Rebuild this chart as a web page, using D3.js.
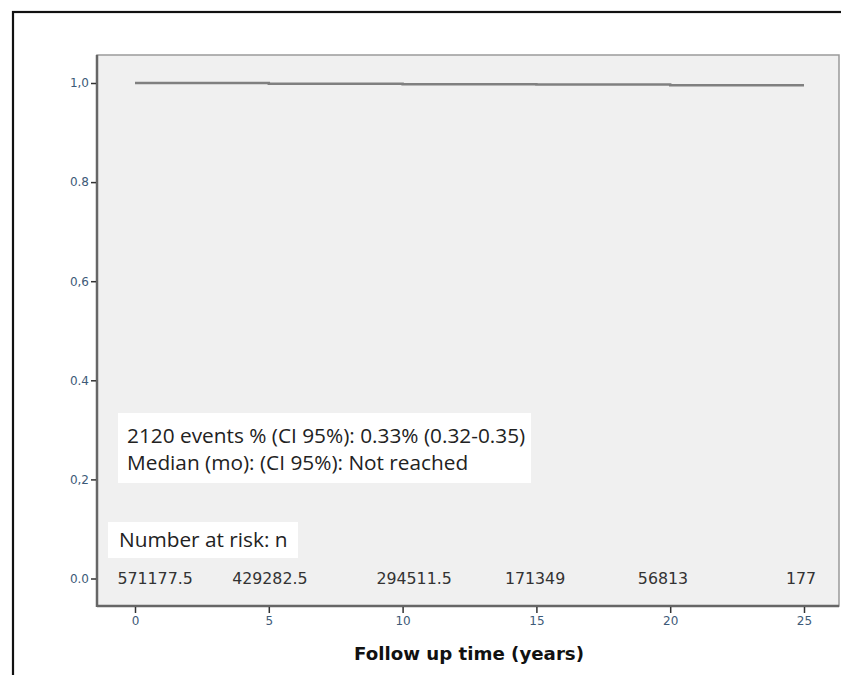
<!DOCTYPE html>
<html><head><meta charset="utf-8">
<script src="https://cdn.jsdelivr.net/npm/d3@7"></script>
<style>
html,body{margin:0;padding:0;background:#fff;}
svg{display:block;}
</style></head>
<body>
<script>
// ---- data ----
const stepTimes = [0, 5, 10, 15, 20, 25];
const survival = [1.0, 0.9985, 0.9975, 0.997, 0.9955, 0.9955];
const xTicks = [0, 5, 10, 15, 20, 25];
const yTicks = [0, 0.2, 0.4, 0.6, 0.8, 1.0];
const yTickLabels = ["0.0", "0,2", "0.4", "0,6", "0.8", "1,0"];
const riskTimes = [0.75, 5.04, 10.43, 14.95, 19.73, 24.89];
const riskLabels = ["571177.5", "429282.5", "294511.5", "171349", "56813", "177"];
const annotLines = ["2120 events % (CI 95%): 0.33% (0.32-0.35)", "Median (mo): (CI 95%): Not reached"];
const riskTitle = "Number at risk: n";
const xTitle = "Follow up time (years)";

const W = 841, H = 675;
const svg = d3.select("body").append("svg").attr("width", W).attr("height", H);

// outer frame
svg.append("rect").attr("x", 13).attr("y", 12).attr("width", 900).attr("height", 800)
  .attr("fill", "#fff").attr("stroke", "#111").attr("stroke-width", 2.2);

const frame = {l: 97, t: 55, r: 839, b: 606};
const x = d3.scaleLinear().domain([0, 25]).range([135, 804]);
const y = d3.scaleLinear().domain([0, 1]).range([578.5, 83]);

// plot background
svg.append("rect").attr("x", frame.l).attr("y", frame.t)
  .attr("width", frame.r - frame.l).attr("height", frame.b - frame.t)
  .attr("fill", "#f0f0f0").attr("stroke", "#9a9a9a").attr("stroke-width", 1.5);

// axes lines
svg.append("line").attr("x1", frame.l).attr("x2", frame.l).attr("y1", frame.t).attr("y2", frame.b + 1)
  .attr("stroke", "#666").attr("stroke-width", 2.5);
svg.append("line").attr("x1", frame.l).attr("x2", frame.r).attr("y1", frame.b).attr("y2", frame.b)
  .attr("stroke", "#666").attr("stroke-width", 2.5);

// y axis
const yAxis = d3.axisLeft(y).tickValues(yTicks).tickSize(5).tickPadding(2)
  .tickFormat((d, i) => yTickLabels[i]);
const gy = svg.append("g").attr("transform", `translate(${frame.l - 1},0)`).call(yAxis);
gy.select(".domain").remove();
gy.selectAll(".tick line").attr("stroke", "#333").attr("stroke-width", 1.5);
gy.selectAll(".tick text").attr("fill", "#3d5a78").attr("font-family", "'DejaVu Sans', sans-serif")
  .attr("font-size", 12);

// x axis
const xAxis = d3.axisBottom(x).tickValues(xTicks).tickSize(6).tickPadding(3).tickFormat(d3.format("d"));
const gx = svg.append("g").attr("transform", `translate(0,${frame.b + 1})`).call(xAxis);
gx.select(".domain").remove();
gx.selectAll(".tick line").attr("stroke", "#333").attr("stroke-width", 1.5);
gx.selectAll(".tick text").attr("fill", "#3d5a78").attr("font-family", "'DejaVu Sans', sans-serif")
  .attr("font-size", 12);

// survival line
const line = d3.line().x(d => x(d[0])).y(d => y(d[1])).curve(d3.curveStepAfter);
svg.append("path").datum(stepTimes.map((t, i) => [t, survival[i]]))
  .attr("d", line).attr("fill", "none").attr("stroke", "#808080").attr("stroke-width", 2.5);

// annotation box
svg.append("rect").attr("x", 118).attr("y", 413).attr("width", 413).attr("height", 70).attr("fill", "#fff");
svg.append("g").selectAll("text").data(annotLines).join("text")
  .attr("x", 127).attr("y", (d, i) => 443 + i * 27)
  .attr("font-family", "'Open Sans', sans-serif").attr("font-size", 20.8).attr("fill", "#222")
  .text(d => d);

// number at risk title
svg.append("rect").attr("x", 108).attr("y", 522).attr("width", 190).attr("height", 36).attr("fill", "#fff");
svg.append("text").attr("x", 119).attr("y", 547)
  .attr("font-family", "'Open Sans', sans-serif").attr("font-size", 20.8).attr("fill", "#222").text(riskTitle);

// number at risk values
svg.append("g").selectAll("text").data(riskLabels).join("text")
  .attr("x", (d, i) => x(riskTimes[i])).attr("y", 584).attr("text-anchor", "middle")
  .attr("font-family", "'DejaVu Sans', sans-serif").attr("font-size", 15.8).attr("fill", "#333")
  .text(d => d);

// x title
svg.append("text").attr("x", 469).attr("y", 660).attr("text-anchor", "middle")
  .attr("font-family", "'DejaVu Sans', sans-serif").attr("font-weight", "bold").attr("font-size", 18.2)
  .attr("fill", "#111").text(xTitle);
</script>
</body></html>
